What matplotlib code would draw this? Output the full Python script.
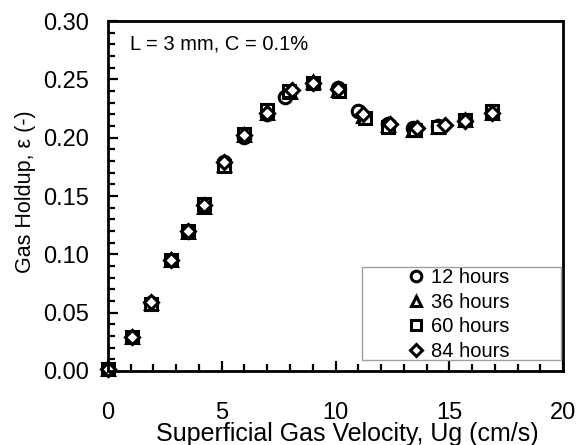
import numpy as np
import matplotlib.pyplot as plt
from matplotlib.patches import Rectangle
from matplotlib.ticker import MultipleLocator, FormatStrFormatter

plt.rcParams['font.family'] = ['Liberation Sans', 'DejaVu Sans']

# gas holdup data
ug_12 = [0, 1.05, 1.9, 2.75, 3.5, 4.2, 5.1, 6.0, 7.0, 7.8, 9.0, 10.1, 11.0, 12.3, 13.4, 14.5, 15.7, 16.9]
eps_12 = [0.002, 0.029, 0.058, 0.095, 0.120, 0.142, 0.179, 0.201, 0.220, 0.235, 0.247, 0.243, 0.223, 0.212, 0.208, 0.210, 0.215, 0.221]

ug_36 = [0, 1.05, 1.9, 2.75, 3.5, 4.2, 5.1, 6.0, 7.0, 8.0, 9.0, 10.1, 11.2, 12.3, 13.4, 14.5, 15.7, 16.9]
eps_36 = [0.002, 0.029, 0.058, 0.095, 0.119, 0.141, 0.177, 0.202, 0.221, 0.239, 0.248, 0.241, 0.219, 0.211, 0.207, 0.209, 0.215, 0.221]

ug_60 = [0, 1.05, 1.9, 2.75, 3.5, 4.2, 5.1, 6.0, 7.0, 7.95, 9.0, 10.15, 11.3, 12.3, 13.5, 14.5, 15.7, 16.9]
eps_60 = [0.002, 0.029, 0.057, 0.095, 0.120, 0.143, 0.176, 0.203, 0.224, 0.240, 0.247, 0.240, 0.217, 0.209, 0.207, 0.209, 0.215, 0.223]

ug_84 = [0, 1.05, 1.9, 2.75, 3.5, 4.2, 5.1, 6.0, 7.0, 8.1, 9.0, 10.1, 11.2, 12.4, 13.6, 14.8, 15.7, 16.9]
eps_84 = [0.002, 0.029, 0.059, 0.095, 0.120, 0.142, 0.179, 0.202, 0.221, 0.241, 0.247, 0.242, 0.220, 0.212, 0.208, 0.211, 0.214, 0.221]

fig = plt.figure(figsize=(5.79, 4.45), dpi=100)
ax = fig.add_axes([0.1865, 0.1663, 0.7859, 0.7865])

mk = dict(ls='none', mfc='white', mec='black', mew=2.2, ms=9, clip_on=False)
ax.plot(ug_12, eps_12, marker='o', label='12 hours', **mk)
ax.plot(ug_36, eps_36, marker='^', label='36 hours', **mk)
ax.plot(ug_60, eps_60, marker='s', label='60 hours', **mk)
ax.plot(ug_84, eps_84, marker='D', label='84 hours', **dict(mk, ms=7.5))

ax.set_xlim(0, 20)
ax.set_ylim(0, 0.30)
ax.xaxis.set_major_locator(MultipleLocator(5))
ax.xaxis.set_minor_locator(MultipleLocator(1))
ax.yaxis.set_major_locator(MultipleLocator(0.05))
ax.yaxis.set_minor_locator(MultipleLocator(0.01))
ax.yaxis.set_major_formatter(FormatStrFormatter('%.2f'))

ax.tick_params(which='both', direction='in', top=False, right=False, width=1.6)
ax.tick_params(which='major', length=7.5, labelsize=17)
ax.tick_params(axis='x', which='major', pad=22)
ax.tick_params(axis='y', which='major', pad=14)
ax.tick_params(which='minor', length=5)
for s in ax.spines.values():
    s.set_linewidth(2)

ax.set_xlabel('Superficial Gas Velocity, Ug (cm/s)', fontsize=18, va='center')
ax.xaxis.set_label_coords(0.525, -0.18)
ax.set_ylabel('Gas Holdup, ε (-)', fontsize=15.5, va='center')
ax.yaxis.set_label_coords(-0.182, 0.511)

ax.text(0.048, 0.934, 'L = 3 mm, C = 0.1%', transform=ax.transAxes, fontsize=14.5,
        va='center', ha='left')

# legend box is wider than its entries, so draw the frame separately
ax.add_patch(Rectangle((0.558, 0.031), 0.438, 0.266, transform=ax.transAxes,
                       fill=True, facecolor='white', edgecolor='#a0a0a0',
                       lw=1, zorder=4))
leg = ax.legend(loc='center', bbox_to_anchor=(0.769, 0.161), fontsize=14.5,
                frameon=False, handletextpad=0.3, labelspacing=0.28,
                handlelength=0.9, markerscale=0.85, borderpad=0)
leg.set_zorder(5)

fig.savefig('out.png', dpi=100)
